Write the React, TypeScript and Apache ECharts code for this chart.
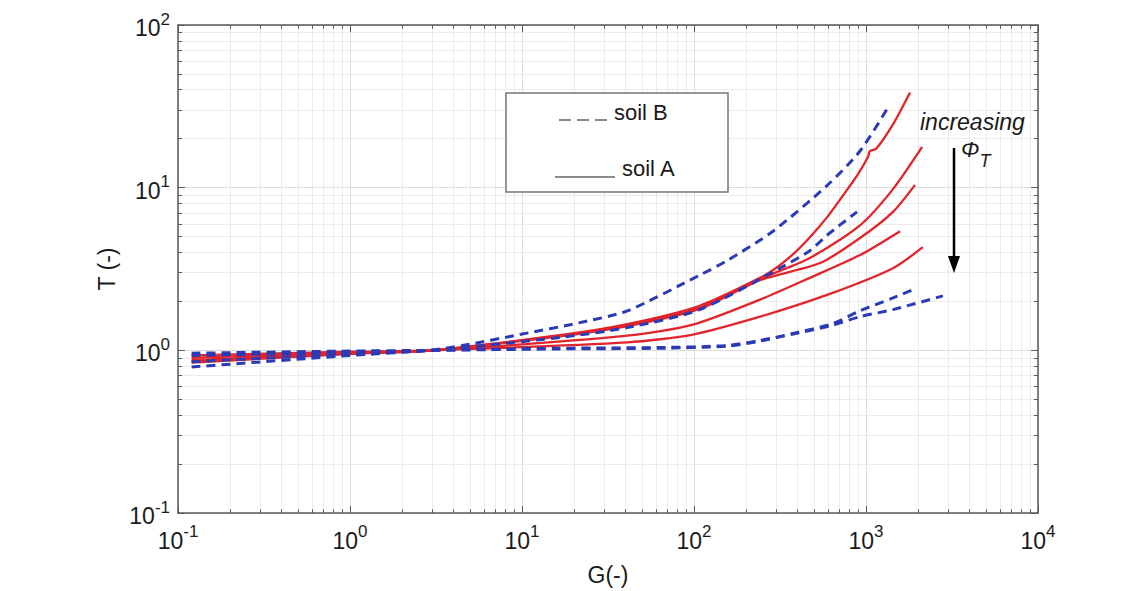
import React, { useEffect, useRef } from "react";
import * as echarts from "echarts";

// Axis ranges (log-log)
const X_MIN = 0.1;
const X_MAX = 1e4;
const Y_MIN = 0.1;
const Y_MAX = 100;

// Soil B curves (dashed blue), [G, T]
const SOIL_B_1: [number, number][] = [
  [0.12, 0.79], [1, 0.93], [2.9, 1.0], [4.5, 1.07], [9.7, 1.25], [21.7, 1.48],
  [41, 1.75], [108, 2.9], [155, 3.55], [288, 5.4], [593, 10.3], [923, 16.8], [1340, 31],
];
const SOIL_B_2: [number, number][] = [
  [0.12, 0.85], [1, 0.95], [3, 1.0], [16.6, 1.2], [41, 1.38], [108, 1.78],
  [316, 3.2], [472, 4.1], [593, 5.1], [887, 7.1],
];
const SOIL_B_3: [number, number][] = [
  [0.12, 0.93], [1, 0.97], [3, 1.0], [16, 1.03], [63, 1.04], [155, 1.07],
  [242, 1.15], [377, 1.27], [643, 1.46], [923, 1.75], [1435, 2.1], [1980, 2.42],
];
const SOIL_B_4: [number, number][] = [
  [0.12, 0.96], [1, 0.99], [3, 1.0], [16, 1.02], [63, 1.03], [155, 1.06],
  [242, 1.14], [377, 1.26], [643, 1.43], [923, 1.61], [1435, 1.78], [2800, 2.16],
];

// Soil A curves (solid red), [G, T]
const SOIL_A_1: [number, number][] = [
  [0.12, 0.84], [1, 0.95], [3, 1.0], [16.6, 1.24], [41, 1.45], [108, 1.88],
  [242, 2.79], [300, 3.21], [377, 3.9], [472, 4.96], [593, 6.57], [735, 8.95],
  [887, 11.85], [1028, 15.5], [1054, 16.8], [1143, 17.3], [1435, 24.5], [1803, 38.5],
];
const SOIL_A_2: [number, number][] = [
  [0.12, 0.86], [1, 0.955], [3, 1.0], [16.6, 1.23], [41, 1.43], [108, 1.83],
  [242, 2.75], [472, 3.7], [923, 5.87], [1435, 9.8], [2120, 17.8],
];
const SOIL_A_3: [number, number][] = [
  [0.12, 0.87], [1, 0.96], [3, 1.0], [16.6, 1.22], [41, 1.41], [108, 1.8],
  [242, 2.7], [541, 3.44], [923, 4.9], [1435, 7.1], [1928, 10.4],
];
const SOIL_A_4: [number, number][] = [
  [0.12, 0.9], [1, 0.97], [3, 1.0], [41, 1.23], [98.6, 1.44], [242, 2.05],
  [472, 2.79], [923, 3.85], [1578, 5.4],
];
const SOIL_A_5: [number, number][] = [
  [0.12, 0.93], [1, 0.98], [3, 1.0], [41, 1.12], [98.6, 1.25], [242, 1.61],
  [593, 2.19], [1435, 3.2], [2140, 4.31],
];

const SOIL_B = [SOIL_B_1, SOIL_B_2, SOIL_B_3, SOIL_B_4];
const SOIL_A = [SOIL_A_1, SOIL_A_2, SOIL_A_3, SOIL_A_4, SOIL_A_5];

const FONT = "'Liberation Sans', Arial, Helvetica, sans-serif";
const RED = "#e3242b";
const BLUE = "#2b3bb5";
const FRAME = "#5a5a5a";
const MAJOR_GRID = "#dcdcdc";
const MINOR_GRID = "#ebebeb";
// multiplicative length of the small minor ticks on a log axis
const TICK_FACTOR = 1.055;

// values k·10^e (k = 2..9) between two decades
function minorValues(minExp: number, maxExp: number): number[] {
  const out: number[] = [];
  for (let e = minExp; e < maxExp; e++) {
    for (let k = 2; k <= 9; k++) out.push(Number((k * Math.pow(10, e)).toPrecision(6)));
  }
  return out;
}

const powerLabel = (v: number) => `{b|10}{s|${Math.round(Math.log10(v))}}`;

const labelRich = {
  b: { fontSize: 23, fontFamily: FONT, color: "#1a1a1a", verticalAlign: "bottom" },
  s: { fontSize: 17, fontFamily: FONT, color: "#1a1a1a", verticalAlign: "bottom", padding: [0, 0, 12, 0] },
};

export default function App() {
  const ref = useRef<HTMLDivElement>(null);

  useEffect(() => {
    if (!ref.current) return;
    const chart = echarts.init(ref.current, undefined, { renderer: "svg" });

    const minorX = minorValues(-1, 4);
    const minorY = minorValues(-1, 2);

    const gridLines: any[] = [
      ...minorX.map((v) => ({ xAxis: v, lineStyle: { color: MINOR_GRID, width: 1, type: "solid" } })),
      ...minorY.map((v) => ({ yAxis: v, lineStyle: { color: MINOR_GRID, width: 1, type: "solid" } })),
    ];

    const tickStyle = { color: FRAME, width: 1, type: "solid" };
    const minorTicks: any[] = [];
    minorX.forEach((v) => {
      minorTicks.push([{ coord: [v, Y_MIN], lineStyle: tickStyle }, { coord: [v, Y_MIN * TICK_FACTOR] }]);
      minorTicks.push([{ coord: [v, Y_MAX], lineStyle: tickStyle }, { coord: [v, Y_MAX / TICK_FACTOR] }]);
    });
    minorY.forEach((v) => {
      minorTicks.push([{ coord: [X_MIN, v], lineStyle: tickStyle }, { coord: [X_MIN * TICK_FACTOR, v] }]);
      minorTicks.push([{ coord: [X_MAX, v], lineStyle: tickStyle }, { coord: [X_MAX / TICK_FACTOR, v] }]);
    });

    const markBase = {
      silent: true,
      symbol: ["none", "none"],
      label: { show: false },
      emphasis: { disabled: true },
      animation: false,
    };

    const curveSeries: any[] = [
      ...SOIL_A.map((d, i) => ({
        name: `soil A ${i + 1}`,
        type: "line",
        data: d,
        showSymbol: false,
        smooth: 0.25,
        lineStyle: { color: RED, width: 2.3 },
        z: 3,
        silent: true,
      })),
      ...SOIL_B.map((d, i) => ({
        name: `soil B ${i + 1}`,
        type: "line",
        data: d,
        showSymbol: false,
        smooth: 0.25,
        lineStyle: { color: BLUE, width: 3, type: [9, 6] },
        z: 4,
        silent: true,
      })),
    ];

    const baseX = {
      type: "log",
      logBase: 10,
      min: X_MIN,
      max: X_MAX,
    };
    const baseY = {
      type: "log",
      logBase: 10,
      min: Y_MIN,
      max: Y_MAX,
    };

    chart.setOption({
      animation: false,
      backgroundColor: "#ffffff",
      grid: { left: 178, right: 98, top: 25, bottom: 74, containLabel: false },
      xAxis: [
        {
          ...baseX,
          position: "bottom",
          name: "G(-)",
          nameLocation: "middle",
          nameGap: 50,
          nameTextStyle: { fontSize: 23, fontFamily: FONT, color: "#1a1a1a" },
          axisLine: { show: true, lineStyle: { color: FRAME, width: 1.5 } },
          axisTick: { show: true, inside: true, length: 7, lineStyle: { color: FRAME } },
          axisLabel: { margin: 10, formatter: powerLabel, rich: labelRich },
          splitLine: { show: true, lineStyle: { color: MAJOR_GRID, width: 1 } },
        },
        {
          ...baseX,
          position: "top",
          axisLine: { show: true, lineStyle: { color: FRAME, width: 1.5 } },
          axisTick: { show: true, inside: true, length: 7, lineStyle: { color: FRAME } },
          axisLabel: { show: false },
          splitLine: { show: false },
        },
      ],
      yAxis: [
        {
          ...baseY,
          position: "left",
          name: "T (-)",
          nameLocation: "middle",
          nameGap: 55,
          nameRotate: 90,
          nameTextStyle: { fontSize: 23, fontFamily: FONT, color: "#1a1a1a" },
          axisLine: { show: true, lineStyle: { color: FRAME, width: 1.5 } },
          axisTick: { show: true, inside: true, length: 7, lineStyle: { color: FRAME } },
          axisLabel: { margin: 8, formatter: powerLabel, rich: labelRich },
          splitLine: { show: true, lineStyle: { color: MAJOR_GRID, width: 1 } },
        },
        {
          ...baseY,
          position: "right",
          axisLine: { show: true, lineStyle: { color: FRAME, width: 1.5 } },
          axisTick: { show: true, inside: true, length: 7, lineStyle: { color: FRAME } },
          axisLabel: { show: false },
          splitLine: { show: false },
        },
      ],
      series: [
        {
          name: "grid",
          type: "line",
          data: [],
          silent: true,
          z: 1,
          markLine: { ...markBase, z: 1, data: gridLines },
        },
        {
          name: "ticks",
          type: "line",
          data: [],
          silent: true,
          z: 5,
          markLine: { ...markBase, z: 5, data: minorTicks },
        },
        ...curveSeries,
      ],
      graphic: [
        // legend box
        {
          type: "rect",
          shape: { x: 506, y: 93, width: 222, height: 99 },
          style: { fill: "#ffffff", stroke: "#777777", lineWidth: 1.5 },
          z: 10,
        },
        {
          type: "line",
          shape: { x1: 559, y1: 120, x2: 608, y2: 120 },
          style: { stroke: "#666666", lineWidth: 1.5, lineDash: [12, 6] },
          z: 11,
        },
        {
          type: "text",
          x: 614,
          y: 112,
          style: { text: "soil B", fontSize: 22, fontFamily: FONT, fill: "#1a1a1a", verticalAlign: "middle" },
          z: 11,
        },
        {
          type: "line",
          shape: { x1: 555, y1: 177, x2: 615, y2: 177 },
          style: { stroke: "#666666", lineWidth: 1.5 },
          z: 11,
        },
        {
          type: "text",
          x: 622,
          y: 168,
          style: { text: "soil A", fontSize: 22, fontFamily: FONT, fill: "#1a1a1a", verticalAlign: "middle" },
          z: 11,
        },
        // annotation: increasing Φ_T
        {
          type: "text",
          x: 920,
          y: 122,
          style: {
            text: "increasing",
            fontSize: 23,
            fontStyle: "italic",
            fontFamily: FONT,
            fill: "#1a1a1a",
            verticalAlign: "middle",
          },
          z: 11,
        },
        {
          type: "text",
          x: 961,
          y: 138,
          style: {
            text: "{p|Φ}{t|T}",
            verticalAlign: "top",
            rich: {
              p: { fontSize: 22, fontStyle: "italic", fontFamily: FONT, fill: "#1a1a1a", verticalAlign: "top" },
              t: { fontSize: 18, fontStyle: "italic", fontFamily: FONT, fill: "#1a1a1a", verticalAlign: "top", padding: [14, 0, 0, 0] },
            },
          },
          z: 11,
        },
        {
          type: "line",
          shape: { x1: 954, y1: 148, x2: 954, y2: 262 },
          style: { stroke: "#000000", lineWidth: 2.5 },
          z: 11,
        },
        {
          type: "polygon",
          shape: { points: [[948, 256], [960, 256], [954, 273]] },
          style: { fill: "#000000" },
          z: 11,
        },
      ],
    });

    return () => chart.dispose();
  }, []);

  return (
    <div
      ref={ref}
      style={{ position: "fixed", left: 0, top: 0, width: 1136, height: 591, background: "#fff" }}
    />
  );
}
